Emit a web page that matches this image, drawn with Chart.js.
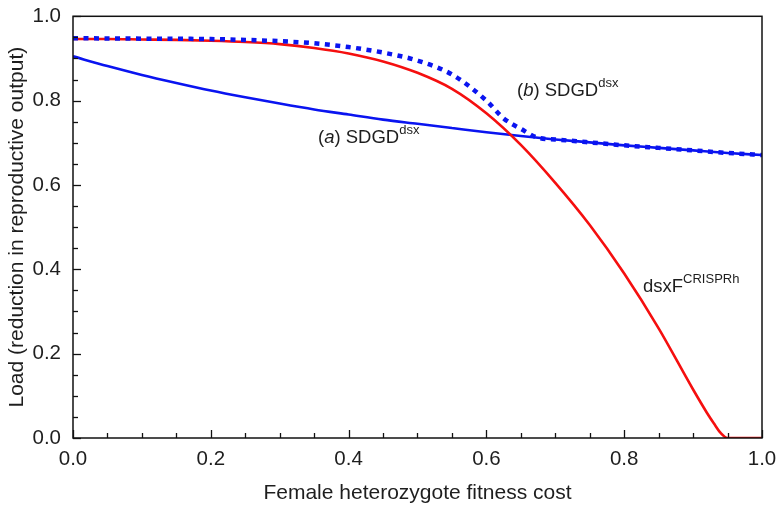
<!DOCTYPE html>
<html>
<head>
<meta charset="utf-8">
<script src="https://cdn.jsdelivr.net/npm/chart.js@4/dist/chart.umd.min.js"></script>
<style>
  html, body { margin: 0; padding: 0; background: #fff; }
  #wrap { width: 778px; height: 510px; }
</style>
</head>
<body>
<div id="wrap"><canvas id="loadChart" width="778" height="510"></canvas></div>
<script>
// fitness cost values (x) and load
const costA = [0, 0.05, 0.1, 0.15, 0.2, 0.25, 0.3, 0.35, 0.4, 0.45, 0.5, 0.55, 0.6, 0.65, 0.7, 0.75, 0.8, 0.85, 0.9, 0.95, 1.0];
const loadA = [0.905, 0.882, 0.861, 0.842, 0.824, 0.808, 0.793, 0.779, 0.767, 0.755, 0.745, 0.735, 0.725, 0.716, 0.708, 0.701, 0.694, 0.688, 0.682, 0.676, 0.671];

const costB = [0, 0.1, 0.2, 0.25, 0.3, 0.35, 0.4, 0.45, 0.5, 0.55, 0.6, 0.625, 0.65, 0.675, 0.7, 0.75, 0.8, 0.85, 0.9, 0.95, 1.0];
const loadB = [0.948, 0.947, 0.946, 0.944, 0.941, 0.936, 0.927, 0.914, 0.895, 0.862, 0.800, 0.758, 0.733, 0.712, 0.708, 0.701, 0.694, 0.688, 0.682, 0.676, 0.671];

const costF = [0, 0.05, 0.1, 0.15, 0.2, 0.25, 0.3, 0.35, 0.4, 0.45, 0.5, 0.55, 0.6, 0.65, 0.7, 0.75, 0.8, 0.85, 0.9, 0.92, 0.93, 0.94, 0.95, 1.0];
const loadF = [0.946, 0.946, 0.945, 0.944, 0.942, 0.939, 0.934, 0.925, 0.912, 0.893, 0.866, 0.828, 0.770, 0.695, 0.605, 0.505, 0.39, 0.26, 0.115, 0.06, 0.035, 0.012, 0, 0];

const xTicks = [0, 0.2, 0.4, 0.6, 0.8, 1.0];
const yTicks = [0, 0.2, 0.4, 0.6, 0.8, 1.0];

function pts(xs, ys) {
  return xs.map((x, i) => ({ x: x, y: ys[i] }));
}

const FONT = '"Liberation Sans", Arial, sans-serif';
const TXT = '#1e1e1e';

// inward tick marks and the closed frame
const frameTicks = {
  id: 'frameTicks',
  afterDraw(chart) {
    const ctx = chart.ctx;
    const a = chart.chartArea;
    const xs = chart.scales.x, ys = chart.scales.y;
    ctx.save();
    ctx.strokeStyle = '#111';
    ctx.lineWidth = 1.5;
    ctx.strokeRect(a.left, a.top, a.right - a.left, a.bottom - a.top);
    ctx.lineWidth = 1.3;
    for (let v = 0; v <= 1.0001; v += 0.05) {
      const major = Math.abs(v * 5 - Math.round(v * 5)) < 1e-6;
      const len = major ? 8 : 5;
      const px = Math.round(xs.getPixelForValue(v)) + 0.5;
      ctx.beginPath();
      ctx.moveTo(px, a.bottom);
      ctx.lineTo(px, a.bottom - len);
      ctx.stroke();
      const py = Math.round(ys.getPixelForValue(v)) + 0.5;
      ctx.beginPath();
      ctx.moveTo(a.left, py);
      ctx.lineTo(a.left + len, py);
      ctx.stroke();
    }
    ctx.restore();
  }
};

// curve labels with italic letters and superscripts
function drawRich(ctx, x, y, parts) {
  let cx = x;
  parts.forEach(p => {
    ctx.font = (p.italic ? 'italic ' : '') + (p.sup ? 13 : 18.5) + 'px ' + FONT;
    ctx.fillText(p.t, cx, p.sup ? y - 8 : y);
    cx += ctx.measureText(p.t).width;
  });
}

const curveLabels = {
  id: 'curveLabels',
  afterDatasetsDraw(chart) {
    const ctx = chart.ctx;
    ctx.save();
    ctx.fillStyle = TXT;
    ctx.textBaseline = 'middle';
    ctx.textAlign = 'left';
    drawRich(ctx, 318, 138, [{ t: '(' }, { t: 'a', italic: true }, { t: ') SDGD' }, { t: 'dsx', sup: true }]);
    drawRich(ctx, 517, 91, [{ t: '(' }, { t: 'b', italic: true }, { t: ') SDGD' }, { t: 'dsx', sup: true }]);
    drawRich(ctx, 643, 287, [{ t: 'dsxF' }, { t: 'CRISPRh', sup: true }]);
    ctx.restore();
  }
};

new Chart(document.getElementById('loadChart'), {
  type: 'line',
  data: {
    datasets: [
      {
        label: '(a) SDGD dsx',
        data: pts(costA, loadA),
        borderColor: '#0a14f0',
        borderWidth: 2.6,
        pointRadius: 0,
        cubicInterpolationMode: 'monotone',
        order: 3
      },
      {
        label: 'dsxF CRISPRh',
        data: pts(costF, loadF),
        borderColor: '#f50f0f',
        borderWidth: 2.6,
        pointRadius: 0,
        cubicInterpolationMode: 'monotone',
        order: 2
      },
      {
        label: '(b) SDGD dsx',
        data: pts(costB, loadB),
        borderColor: '#0a14f0',
        borderWidth: 4.5,
        borderDash: [5, 5.5],
        borderCapStyle: 'butt',
        pointRadius: 0,
        cubicInterpolationMode: 'monotone',
        order: 1
      }
    ]
  },
  options: {
    responsive: false,
    animation: false,
    layout: { padding: { top: 13, right: 16, left: 0, bottom: 0 } },
    plugins: {
      legend: { display: false },
      tooltip: { enabled: false }
    },
    scales: {
      x: {
        type: 'linear',
        min: 0, max: 1,
        afterBuildTicks: s => { s.ticks = xTicks.map(v => ({ value: v })); },
        afterFit: s => { s.height = 72; },
        grid: { display: false },
        border: { display: false },
        ticks: {
          color: TXT,
          font: { family: FONT, size: 20.5 },
          padding: 1,
          maxRotation: 0,
          callback: v => v.toFixed(1)
        },
        title: {
          display: true,
          text: 'Female heterozygote fitness cost',
          color: TXT,
          font: { family: FONT, size: 21 },
          padding: { top: 0, bottom: 4 }
        }
      },
      y: {
        type: 'linear',
        min: 0, max: 1,
        afterBuildTicks: s => { s.ticks = yTicks.map(v => ({ value: v })); },
        afterFit: s => { s.width = 73; },
        grid: { display: false },
        border: { display: false },
        ticks: {
          color: TXT,
          font: { family: FONT, size: 20.5 },
          padding: 4,
          callback: v => v.toFixed(1)
        },
        title: {
          display: true,
          text: 'Load (reduction in reproductive output)',
          color: TXT,
          font: { family: FONT, size: 21 },
          padding: { top: 5, bottom: 0 }
        }
      }
    }
  },
  plugins: [frameTicks, curveLabels]
});
</script>
</body>
</html>
